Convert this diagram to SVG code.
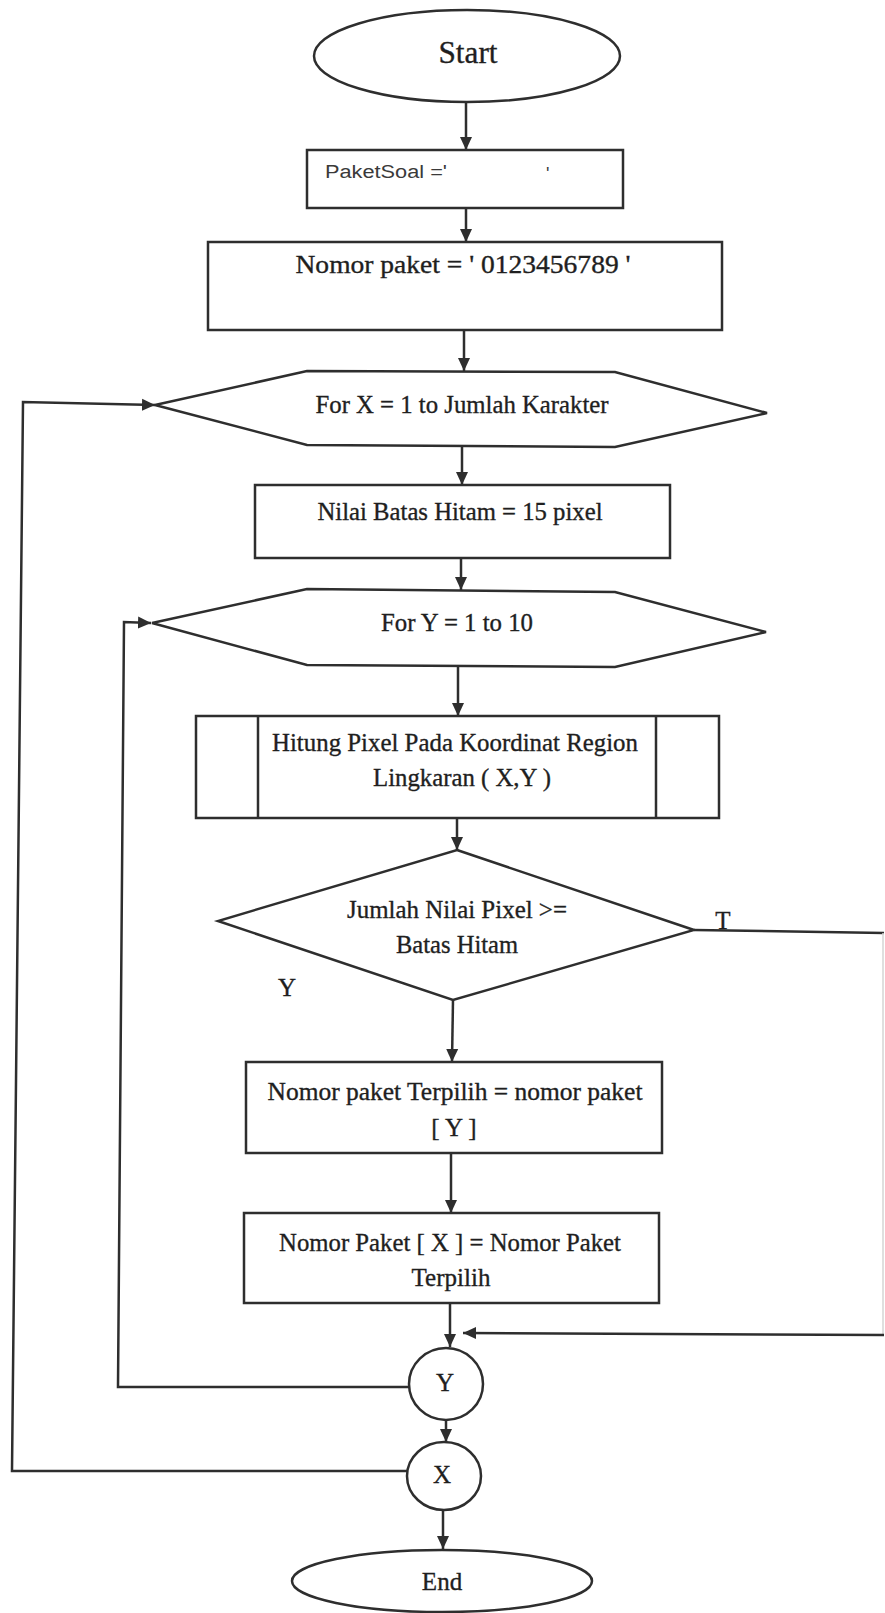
<svg xmlns="http://www.w3.org/2000/svg" width="885" height="1613" viewBox="0 0 885 1613">
  <defs>
    <marker id="arrow" markerUnits="userSpaceOnUse" markerWidth="15" markerHeight="13" refX="13" refY="6.5" orient="auto">
      <path d="M0,0.5 L13,6.5 L0,12.5 Z" fill="#2e2e2e"/>
    </marker>
    <style>
      .shape { fill: #ffffff; stroke: #2e2e2e; stroke-width: 2.5; }
      .line { fill: none; stroke: #2e2e2e; stroke-width: 2.5; }
      .faint { fill: none; stroke: #d4d4d4; stroke-width: 1.5; }
      .t { font-family: "Liberation Serif", "Times New Roman", serif; font-size: 25px; fill: #1f1f1f; stroke: #1f1f1f; stroke-width: 0.35; text-anchor: middle; }
      .big { font-size: 31px; }
      .sans { font-family: "Liberation Sans", Arial, sans-serif; font-size: 18px; fill: #3a3a3a; }
    </style>
  </defs>
  <rect width="885" height="1613" fill="#ffffff"/>

  <!-- connectors -->
  <g id="connectors">
    <line class="line" x1="466" y1="102" x2="466" y2="150" marker-end="url(#arrow)"/>
    <line class="line" x1="466" y1="208" x2="466" y2="242" marker-end="url(#arrow)"/>
    <line class="line" x1="464" y1="331" x2="464" y2="371" marker-end="url(#arrow)"/>
    <line class="line" x1="462" y1="446" x2="462" y2="485" marker-end="url(#arrow)"/>
    <line class="line" x1="461" y1="558" x2="461" y2="590" marker-end="url(#arrow)"/>
    <line class="line" x1="458" y1="666" x2="458" y2="716" marker-end="url(#arrow)"/>
    <line class="line" x1="457" y1="818" x2="457" y2="850" marker-end="url(#arrow)"/>
    <line class="line" x1="453" y1="1000" x2="452" y2="1062" marker-end="url(#arrow)"/>
    <line class="line" x1="451" y1="1153" x2="451" y2="1213" marker-end="url(#arrow)"/>
    <line class="line" x1="450" y1="1303" x2="450" y2="1347" marker-end="url(#arrow)"/>
    <line class="line" x1="446" y1="1420" x2="446" y2="1442" marker-end="url(#arrow)"/>
    <line class="line" x1="443" y1="1510" x2="443" y2="1549" marker-end="url(#arrow)"/>
    <!-- "T" branch: out to the right edge, down and back into the Y loop end -->
    <polyline class="line" points="694,930 884,933"/>
    <line class="faint" x1="883" y1="933" x2="883" y2="1335"/>
    <polyline class="line" points="884,1335 463,1333" marker-end="url(#arrow)"/>
    <!-- inner loop (Y) back to For Y -->
    <polyline class="line" points="409,1387 118,1387 124,622 151,623" marker-end="url(#arrow)"/>
    <!-- outer loop (X) back to For X -->
    <polyline class="line" points="407,1471 12,1471 23,402 155,405" marker-end="url(#arrow)"/>
    <text class="t" x="723" y="929">T</text>
    <text class="t" x="287" y="996">Y</text>
  </g>

  <g id="start">
    <ellipse class="shape" cx="467" cy="56" rx="153" ry="46"/>
    <text class="t big" x="468" y="63" textLength="59" lengthAdjust="spacingAndGlyphs">Start</text>
  </g>

  <g id="paket-soal">
    <rect class="shape" x="307" y="150" width="316" height="58"/>
    <text class="sans" x="325" y="178" textLength="122" lengthAdjust="spacingAndGlyphs">PaketSoal ='</text>
    <text class="sans" x="546" y="180">'</text>
  </g>

  <g id="nomor-paket">
    <rect class="shape" x="208" y="242" width="514" height="88"/>
    <text class="t" x="463" y="273" textLength="335" lengthAdjust="spacingAndGlyphs">Nomor paket = ' 0123456789 '</text>
  </g>

  <g id="for-x">
    <polygon class="shape" points="155,405 307,371 615,372 767,413 615,447 307,445"/>
    <text class="t" x="462" y="413" textLength="293" lengthAdjust="spacingAndGlyphs">For X = 1 to Jumlah Karakter</text>
  </g>

  <g id="nilai-batas">
    <rect class="shape" x="255" y="485" width="415" height="73"/>
    <text class="t" x="460" y="520" textLength="285" lengthAdjust="spacingAndGlyphs">Nilai Batas Hitam = 15 pixel</text>
  </g>

  <g id="for-y">
    <polygon class="shape" points="152,623 307,589 615,592 766,632 615,667 307,665"/>
    <text class="t" x="457" y="631" textLength="152" lengthAdjust="spacingAndGlyphs">For Y = 1 to 10</text>
  </g>

  <g id="hitung-pixel">
    <rect class="shape" x="196" y="716" width="523" height="102"/>
    <line class="line" x1="258" y1="716" x2="258" y2="818"/>
    <line class="line" x1="656" y1="716" x2="656" y2="818"/>
    <text class="t" x="455" y="751" textLength="366" lengthAdjust="spacingAndGlyphs">Hitung Pixel Pada Koordinat Region</text>
    <text class="t" x="462" y="786" textLength="178" lengthAdjust="spacingAndGlyphs">Lingkaran ( X,Y )</text>
  </g>

  <g id="cek-batas">
    <polygon class="shape" points="457,850 694,930 453,1000 218,921"/>
    <text class="t" x="457" y="918" textLength="220" lengthAdjust="spacingAndGlyphs">Jumlah Nilai Pixel &gt;=</text>
    <text class="t" x="457" y="953" textLength="122" lengthAdjust="spacingAndGlyphs">Batas Hitam</text>
  </g>

  <g id="terpilih">
    <rect class="shape" x="246" y="1062" width="416" height="91"/>
    <text class="t" x="455" y="1100" textLength="375" lengthAdjust="spacingAndGlyphs">Nomor paket Terpilih = nomor paket</text>
    <text class="t" x="454" y="1136">[ Y ]</text>
  </g>

  <g id="simpan-x">
    <rect class="shape" x="244" y="1213" width="415" height="90"/>
    <text class="t" x="450" y="1251" textLength="342" lengthAdjust="spacingAndGlyphs">Nomor Paket [ X ] = Nomor Paket</text>
    <text class="t" x="451" y="1286">Terpilih</text>
  </g>

  <g id="next-y">
    <ellipse class="shape" cx="446" cy="1384" rx="37" ry="36"/>
    <text class="t" x="445" y="1391">Y</text>
  </g>

  <g id="next-x">
    <ellipse class="shape" cx="444" cy="1476" rx="37" ry="34"/>
    <text class="t" x="442" y="1483">X</text>
  </g>

  <g id="end">
    <ellipse class="shape" cx="442" cy="1581" rx="150" ry="31"/>
    <text class="t" x="442" y="1590">End</text>
  </g>
</svg>
